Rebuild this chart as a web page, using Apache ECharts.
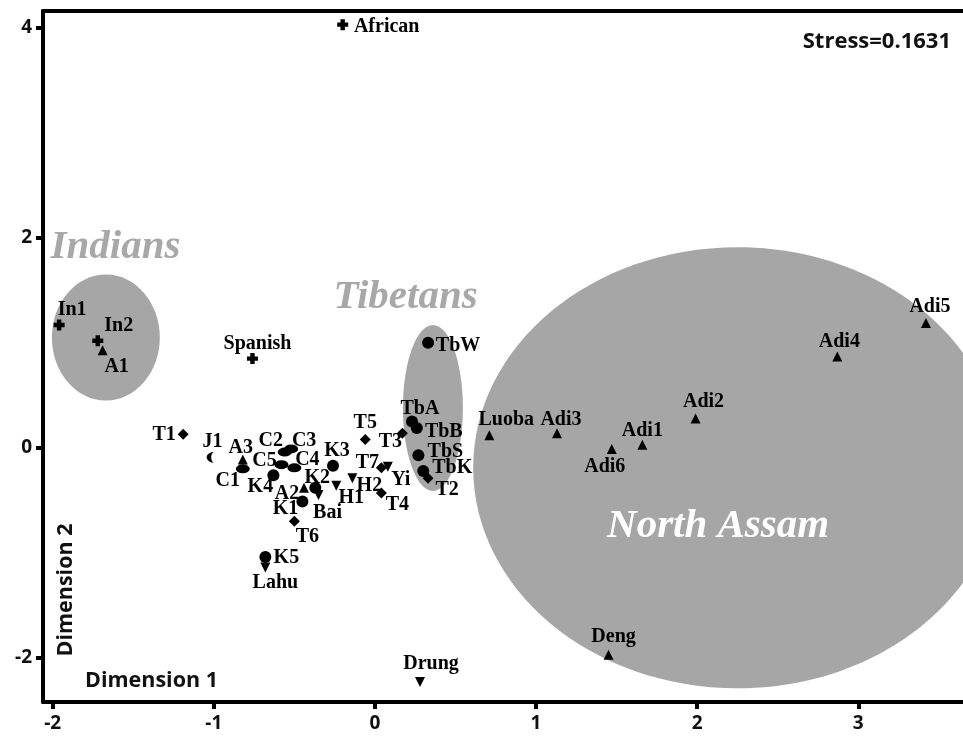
<!DOCTYPE html>
<html><head><meta charset="utf-8">
<script src="https://cdn.jsdelivr.net/npm/echarts@6/dist/echarts.min.js"></script>
<style>html,body{margin:0;padding:0;background:#fff}#c{width:963px;height:744px}</style>
</head><body><div id="c"></div>
<script>
// ---- data ----
const plusNames = ['African', 'In1', 'In2', 'Spanish'];
const plusX = [-0.20, -1.96, -1.72, -0.76];
const plusY = [4.03, 1.17, 1.02, 0.85];

const triNames = ['A1', 'A3', 'A2', 'Luoba', 'Adi3', 'Adi6', 'Adi1', 'Adi2', 'Adi4', 'Adi5', 'Deng'];
const triX = [-1.69, -0.82, -0.44, 0.71, 1.13, 1.47, 1.66, 1.99, 2.87, 3.42, 1.45];
const triY = [0.93, -0.11, -0.38, 0.12, 0.14, -0.01, 0.03, 0.28, 0.87, 1.19, -1.97];

const invNames = ['Bai', 'H1', 'H2', 'Yi', 'Lahu', 'Drung'];
const invX = [-0.35, -0.24, -0.14, 0.08, -0.68, 0.28];
const invY = [-0.45, -0.36, -0.29, -0.18, -1.14, -2.23];

const circNames = ['K4', 'K3', 'K2', 'K1', 'K5', 'TbA', 'TbB', 'TbS', 'TbK', 'TbW'];
const circX = [-0.63, -0.26, -0.37, -0.45, -0.68, 0.23, 0.26, 0.27, 0.30, 0.33];
const circY = [-0.26, -0.17, -0.38, -0.51, -1.04, 0.25, 0.19, -0.07, -0.22, 1.00];

const diaNames = ['T1', 'T6', 'T5', 'T7', 'T4', 'T3', 'T2'];
const diaX = [-1.19, -0.50, -0.06, 0.04, 0.04, 0.17, 0.33];
const diaY = [0.13, -0.70, 0.08, -0.19, -0.43, 0.14, -0.29];

const ovalNames = ['C1', 'C2', 'C3', 'C5', 'C4'];
const ovalX = [-0.82, -0.56, -0.52, -0.58, -0.50];
const ovalY = [-0.20, -0.04, -0.01, -0.16, -0.19];

const cresNames = ['J1'];
const cresX = [-1.02];
const cresY = [-0.09];

// cluster ellipses: centre and radii in data units
const groupNames = ['Indians', 'Tibetans', 'North Assam'];
const ellCx = [-1.67, 0.36, 2.25];
const ellCy = [1.05, 0.38, -0.19];
const ellRx = [0.335, 0.186, 1.64];
const ellRy = [0.60, 0.79, 2.10];
const groupLabelX = [-1.61, 0.19, 2.13];
const groupLabelY = [1.91, 1.43, -0.75];

const xTicks = [-2, -1, 0, 1, 2, 3];
const yTicks = [-2, 0, 2, 4];
const stressText = 'Stress=0.1631';

// ---- label placement (style, pixel offsets from marker centre) ----
const labelOffset = {
  African: [44, 2], In1: [13, -15], In2: [21, -15], A1: [14, 17], Spanish: [5, -15],
  T1: [-19, 1], J1: [2, -15], A3: [-2, -12], C1: [-15, 12], C2: [-14, -11], C3: [13, -8],
  C5: [-17, -4], C4: [13, -8], K4: [-13, 12], K3: [4, -15], K2: [2, -10], A2: [-17, 6],
  K1: [-17, 7], Bai: [9, 18], T6: [13, 15], H1: [15, 12], H2: [17, 8], T5: [0, -17],
  T7: [-14, -5], Yi: [13, 13], T4: [16, 12], T3: [-12, 9], TbA: [8, -13], TbB: [27, 4],
  TbS: [27, -3], TbK: [29, -3], T2: [19, 12], TbW: [30, 3], Luoba: [17, -15], Adi3: [4, -13],
  Adi6: [-7, 18], Adi1: [0, -14], Adi2: [8, -17], Adi4: [2, -15], Adi5: [4, -16],
  Deng: [5, -18], Drung: [11, -18], K5: [21, 1], Lahu: [10, 15]
};

const labelFont = { fontFamily: 'Liberation Serif', fontWeight: 'bold', fontSize: 20, color: '#000' };

function pts(names, xs, ys) {
  return names.map((n, i) => ({
    name: n,
    value: [xs[i], ys[i]],
    label: Object.assign({ show: true, formatter: n, position: 'inside', offset: labelOffset[n] || [0, 0],
      align: 'center', verticalAlign: 'middle' }, labelFont)
  }));
}

function pointSeries(names, xs, ys, symbol, size, rotate) {
  return {
    type: 'scatter', data: pts(names, xs, ys), symbol: symbol, symbolSize: size,
    symbolRotate: rotate || 0, itemStyle: { color: '#000', opacity: 1 }, z: 5,
    emphasis: { disabled: true }, silent: true
  };
}

const chart = echarts.init(document.getElementById('c'), null, { renderer: 'canvas' });

const ellData = groupNames.map((n, i) => [ellCx[i], ellCy[i], ellRx[i], ellRy[i]]);

const axisLabelStyle = { fontFamily: 'Open Sans', fontWeight: 'bold', fontSize: 19, color: '#111' };

const option = {
  animation: false,
  backgroundColor: '#fff',
  grid: { left: 43, right: 0, top: 11, bottom: 42, containLabel: false },
  xAxis: [{
    type: 'value', min: -2.06, max: 3.65, position: 'bottom',
    splitLine: { show: false },
    axisLine: { show: true, onZero: false, lineStyle: { color: '#000', width: 4 } },
    axisTick: { show: true, length: 7, lineStyle: { color: '#000', width: 4 }, customValues: xTicks },
    axisLabel: Object.assign({ margin: 12, customValues: xTicks, formatter: v => String(v) }, axisLabelStyle)
  }, {
    type: 'value', min: -2.06, max: 3.65, position: 'top',
    splitLine: { show: false },
    axisLine: { show: true, onZero: false, lineStyle: { color: '#000', width: 4 } },
    axisTick: { show: false }, axisLabel: { show: false }
  }],
  yAxis: {
    type: 'value', min: -2.42, max: 4.16,
    splitLine: { show: false },
    axisLine: { show: true, onZero: false, lineStyle: { color: '#000', width: 4 } },
    axisTick: { show: true, length: 7, lineStyle: { color: '#000', width: 4 }, customValues: yTicks },
    axisLabel: Object.assign({ margin: 11, customValues: yTicks, formatter: v => String(v) }, axisLabelStyle)
  },
  series: [
    {
      type: 'custom', data: ellData, z: 1, silent: true, clip: false,
      renderItem: function (params, api) {
        const c = api.coord([api.value(0), api.value(1)]);
        const s = api.size([api.value(2), api.value(3)]);
        return { type: 'ellipse', shape: { cx: c[0], cy: c[1], rx: s[0], ry: s[1] }, style: { fill: '#a6a6a6' } };
      }
    },
    {
      type: 'scatter', symbolSize: 0, z: 3, silent: true, itemStyle: { opacity: 1 },
      data: groupNames.map((n, i) => ({
        value: [groupLabelX[i], groupLabelY[i]],
        label: {
          show: true, formatter: n, position: 'inside', align: 'center', verticalAlign: 'middle',
          fontFamily: 'Liberation Serif', fontStyle: 'italic', fontWeight: 'bold', fontSize: 41,
          color: i === 2 ? '#ffffff' : '#a8a8a8'
        }
      }))
    },
    pointSeries(plusNames, plusX, plusY, 'path://M3,0H7V3H10V7H7V10H3V7H0V3H3Z', 11),
    pointSeries(triNames, triX, triY, 'triangle', 10),
    pointSeries(invNames, invX, invY, 'triangle', 10, 180),
    pointSeries(circNames, circX, circY, 'circle', 12),
    pointSeries(diaNames, diaX, diaY, 'diamond', 11),
    pointSeries(ovalNames, ovalX, ovalY, 'circle', [14, 9]),
    pointSeries(cresNames, cresX, cresY, 'path://M8,0A7,6 0 0,0 8,12A3,6 0 0,1 8,0Z', [8, 11])
  ],
  graphic: [
    { type: 'text', right: 12, top: 31, style: { text: stressText, font: 'bold 22px "Open Sans"', fill: '#111' } },
    { type: 'text', left: 85, top: 670, style: { text: 'Dimension 1', font: 'bold 21.5px "Open Sans"', fill: '#111' } },
    { type: 'text', x: 66, y: 590, rotation: Math.PI / 2,
      style: { text: 'Dimension 2', font: 'bold 21.5px "Open Sans"', fill: '#111', align: 'center', verticalAlign: 'middle' } }
  ]
};
chart.setOption(option);
</script>
</body></html>
